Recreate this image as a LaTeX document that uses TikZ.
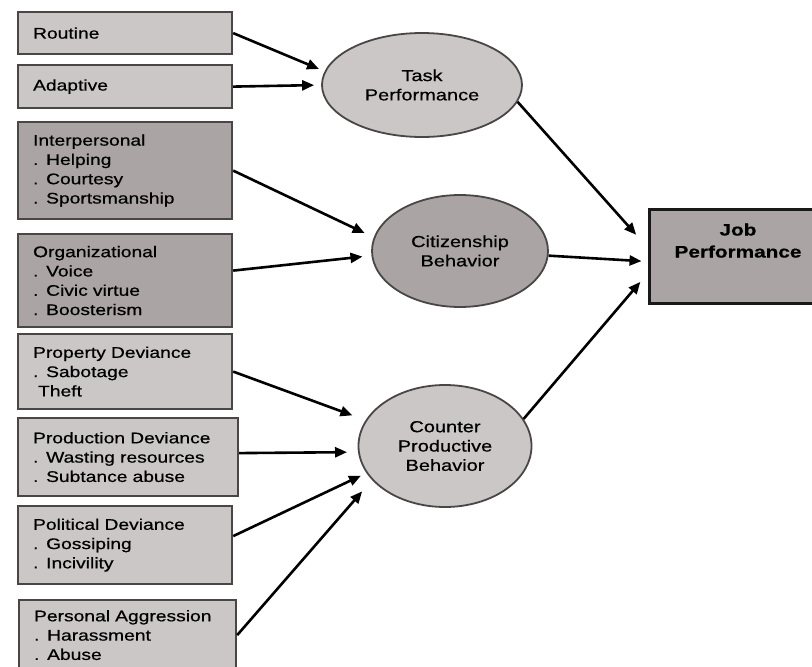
\documentclass[tikz,border=0pt]{standalone}
\usepackage{fontspec}
\newfontfamily\diagfont{Liberation Sans}[FakeStretch=1.25, FakeBold=0.6]
\usepackage{tikz}
\usetikzlibrary{arrows.meta,positioning,shapes.geometric}
\definecolor{PerfLight}{HTML}{CCC7C7}
\definecolor{PerfDark}{HTML}{AAA4A4}
\definecolor{PerfEdge}{HTML}{4A4646}
\tikzset{
  perfarrow/.style={-{Triangle[length=12pt,width=10pt]}, line width=2.6pt, draw=black},
  facet/.style={draw=PerfEdge, line width=2.2pt, fill=PerfLight, anchor=north west,
    align=left, text width=#1, inner xsep=15pt, inner ysep=0pt,
    font=\diagfont\fontsize{15.4}{19.3}\selectfont},
  facet/.default=184pt,
  outcome/.style={ellipse, draw=PerfEdge, line width=1.8pt, fill=PerfLight, inner sep=0pt,
    align=center, font=\diagfont\fontsize{16}{19.3}\selectfont}
}

\begin{document}
\begin{tikzpicture}[x=1pt, y=-1pt]
\useasboundingbox (0,0) rectangle (812,667);
\clip (0,0) rectangle (812,667);

% dimensions of performance
\node[facet, minimum height=42pt] at (17,11) (routine) {Routine};
\node[facet, minimum height=43pt] at (17,64) (adaptive) {Adaptive};
\node[facet, fill=PerfDark, minimum height=97pt] at (17,121) (interp)
  {Interpersonal\\. Helping\\. Courtesy\\. Sportsmanship};
\node[facet, fill=PerfDark, minimum height=93pt] at (17,233) (organiz)
  {Organizational\\. Voice\\. Civic virtue\\. Boosterism};
\node[facet, minimum height=75pt] at (17,333) (property)
  {Property Deviance\\. Sabotage\\\hspace*{5pt}Theft};
\node[facet=190pt, minimum height=78pt] at (17,417) (production)
  {Production Deviance\\. Wasting resources\\. Subtance abuse};
\node[facet, minimum height=78pt] at (17,505) (political)
  {Political Deviance\\. Gossiping\\. Incivility};
\node[facet=187pt, minimum height=70pt] at (18,599) (personal)
  {Personal Aggression\\. Harassment\\. Abuse};

\node[outcome, minimum width=200pt, minimum height=104pt] at (422,85) (task) {Task\\Performance};
\node[outcome, fill=PerfDark, minimum width=176pt, minimum height=112pt] at (460,251) (citizen) {Citizenship\\Behavior};
\node[outcome, minimum width=173pt, minimum height=122pt] at (445,446) (counter) {Counter\\Productive\\Behavior};

\node[draw=black!90, line width=3pt, fill=PerfDark, anchor=north, minimum width=178pt,
  align=center, inner ysep=14pt, text height=34pt, text depth=32pt,
  font=\diagfont\bfseries\fontsize{16.6}{22}\selectfont] at (738,208) (jobperf) {Job\\Performance};

% into the three behaviours
\draw[perfarrow, shorten >=6pt] (routine.east) -- (task.172);
\draw[perfarrow, shorten >=7pt] (adaptive.east) -- (task.west);
\draw[perfarrow, shorten >=10pt] (interp.east) -- (citizen.171);
\draw[perfarrow, shorten >=9pt] ([yshift=10pt]organiz.east) -- (citizen.183);
\draw[perfarrow, shorten >=14pt] (property.east) -- (counter.162);
\draw[perfarrow, shorten >=11pt] ([yshift=4pt]production.east) -- (counter.184);
\draw[perfarrow, shorten >=6pt] ([yshift=9pt]political.east) -- (counter.199);
\draw[perfarrow, shorten >=15pt] (personal.east) -- (counter.205);

% behaviours into job performance
\draw[perfarrow, shorten >=17pt] (task.350) -- ([yshift=9pt]jobperf.west);
\draw[perfarrow, shorten >=6pt] (citizen.357) -- ([yshift=-5pt]jobperf.west);
\draw[perfarrow, shorten >=11pt] (counter.19) -- ([yshift=-17pt]jobperf.west);
\end{tikzpicture}
\end{document}
